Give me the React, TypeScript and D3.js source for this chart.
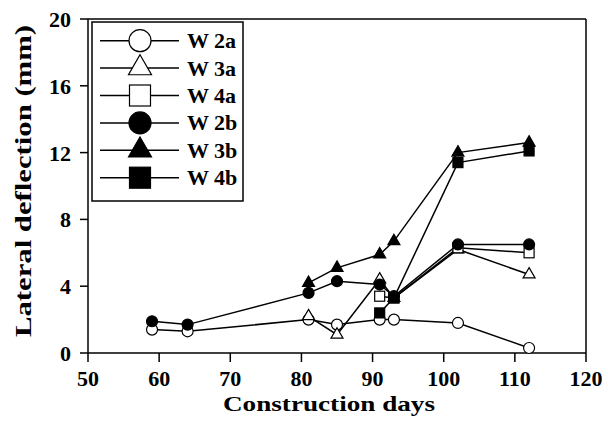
import React from "react";
import * as d3 from "d3";

const xTicks = [50, 60, 70, 80, 90, 100, 110, 120];
const yTicks = [0, 4, 8, 12, 16, 20];

const seriesNames = ["W 2a", "W 3a", "W 4a", "W 2b", "W 3b", "W 4b"];
const seriesShapes = ["circle", "triangle", "square", "circle", "triangle", "square"];
const seriesFilled = [false, false, false, true, true, true];

const daysW2a = [59, 64, 81, 85, 91, 93, 102, 112];
const valsW2a = [1.4, 1.3, 2.0, 1.7, 2.0, 2.0, 1.8, 0.3];
const daysW3a = [81, 85, 91, 93, 102, 112];
const valsW3a = [2.2, 1.1, 4.4, 3.3, 6.2, 4.7];
const daysW4a = [91, 93, 102, 112];
const valsW4a = [3.4, 3.3, 6.3, 6.0];
const daysW2b = [59, 64, 81, 85, 91, 93, 102, 112];
const valsW2b = [1.9, 1.7, 3.6, 4.3, 4.1, 3.4, 6.5, 6.5];
const daysW3b = [81, 85, 91, 93, 102, 112];
const valsW3b = [4.2, 5.1, 5.9, 6.7, 12.0, 12.6];
const daysW4b = [91, 93, 102, 112];
const valsW4b = [2.4, 3.3, 11.4, 12.1];

const seriesDays = [daysW2a, daysW3a, daysW4a, daysW2b, daysW3b, daysW4b];
const seriesVals = [valsW2a, valsW3a, valsW4a, valsW2b, valsW3b, valsW4b];

const FONT = "Liberation Serif, Times New Roman, Tinos, serif";

function Marker({ shape, filled, x, y, s }: { shape: string; filled: boolean; x: number; y: number; s: number }) {
  const fill = filled ? "#000" : "#fff";
  const sw = 1.2;
  if (shape === "circle") {
    return <circle cx={x} cy={y} r={s / 2} fill={fill} stroke="#000" strokeWidth={sw} />;
  }
  if (shape === "square") {
    return <rect x={x - s / 2} y={y - s / 2} width={s} height={s} fill={fill} stroke="#000" strokeWidth={sw} />;
  }
  const h = (s * Math.sqrt(3)) / 2;
  const p = `M${x},${y - (2 * h) / 3}L${x + s / 2},${y + h / 3}L${x - s / 2},${y + h / 3}Z`;
  return <path d={p} fill={fill} stroke="#000" strokeWidth={sw} />;
}

export default function App() {
  const W = 608, H = 428;
  const left = 88, right = 586, top = 19, bottom = 353;
  const x = d3.scaleLinear().domain([50, 120]).range([left, right]);
  const y = d3.scaleLinear().domain([0, 20]).range([bottom, top]);
  const line = d3.line<[number, number]>().x((d) => x(d[0])).y((d) => y(d[1]));

  const legX = 92, legY = 22, legW = 151, legH = 179;
  const rowH = 27.4;
  const txt = { fontFamily: FONT, fontWeight: 700 as const };

  return (
    <svg width={W} height={H} style={{ position: "absolute", left: 0, top: 0, background: "#fff" }}>
      <rect x={0} y={0} width={W} height={H} fill="#fff" />
      {/* frame */}
      <line x1={left} y1={top} x2={right} y2={top} stroke="#000" strokeWidth={1.5} />
      <line x1={right} y1={top} x2={right} y2={bottom} stroke="#000" strokeWidth={1.5} />
      <line x1={left} y1={top} x2={left} y2={bottom} stroke="#000" strokeWidth={1.5} />
      <line x1={left} y1={bottom} x2={right} y2={bottom} stroke="#000" strokeWidth={1.5} />
      {/* x ticks */}
      {xTicks.map((t) => (
        <g key={"xt" + t}>
          <line x1={x(t)} y1={bottom} x2={x(t)} y2={bottom + 9} stroke="#000" strokeWidth={1.5} />
          <text x={x(t)} y={386} textAnchor="middle" style={{ ...txt, fontSize: 22 }}>
            {t}
          </text>
        </g>
      ))}
      {/* y ticks */}
      {yTicks.map((t) => (
        <g key={"yt" + t}>
          <line x1={left - 8} y1={y(t)} x2={left} y2={y(t)} stroke="#000" strokeWidth={1.5} />
          <text x={71} y={y(t) + 8} textAnchor="end" style={{ ...txt, fontSize: 22 }}>
            {t}
          </text>
        </g>
      ))}
      {/* axis titles */}
      <text x={329} y={411} textAnchor="middle" style={{ ...txt, fontSize: 22 }} textLength={212} lengthAdjust="spacingAndGlyphs">
        Construction days
      </text>
      <text transform={`translate(31,181) rotate(-90)`} textAnchor="middle" style={{ ...txt, fontSize: 23 }} textLength={312} lengthAdjust="spacingAndGlyphs">
        Lateral deflection (mm)
      </text>
      {/* series */}
      {seriesNames.map((name, i) => {
        const pts: [number, number][] = seriesDays[i].map((d, j) => [d, seriesVals[i][j]]);
        return (
          <g key={name}>
            <path d={line(pts) || ""} fill="none" stroke="#000" strokeWidth={1.5} />
            {pts.map((p, j) => (
              <Marker key={j} shape={seriesShapes[i]} filled={seriesFilled[i]} x={x(p[0])} y={y(p[1])} s={seriesShapes[i] === "triangle" ? 12 : seriesShapes[i] === "square" ? 10 : 11} />
            ))}
          </g>
        );
      })}
      {/* legend */}
      <rect x={legX} y={legY} width={legW} height={legH} fill="#fff" stroke="#000" strokeWidth={1.5} />
      {seriesNames.map((name, i) => {
        const cy = 40.7 + i * rowH;
        return (
          <g key={"leg" + name}>
            <line x1={100} y1={cy} x2={179} y2={cy} stroke="#000" strokeWidth={1.5} />
            <Marker shape={seriesShapes[i]} filled={seriesFilled[i]} x={140} y={cy} s={seriesShapes[i] === "triangle" ? 23 : seriesShapes[i] === "square" ? 21 : 22} />
            <text x={187} y={cy + 7.5} style={{ ...txt, fontSize: 22 }}>
              {name}
            </text>
          </g>
        );
      })}
    </svg>
  );
}
